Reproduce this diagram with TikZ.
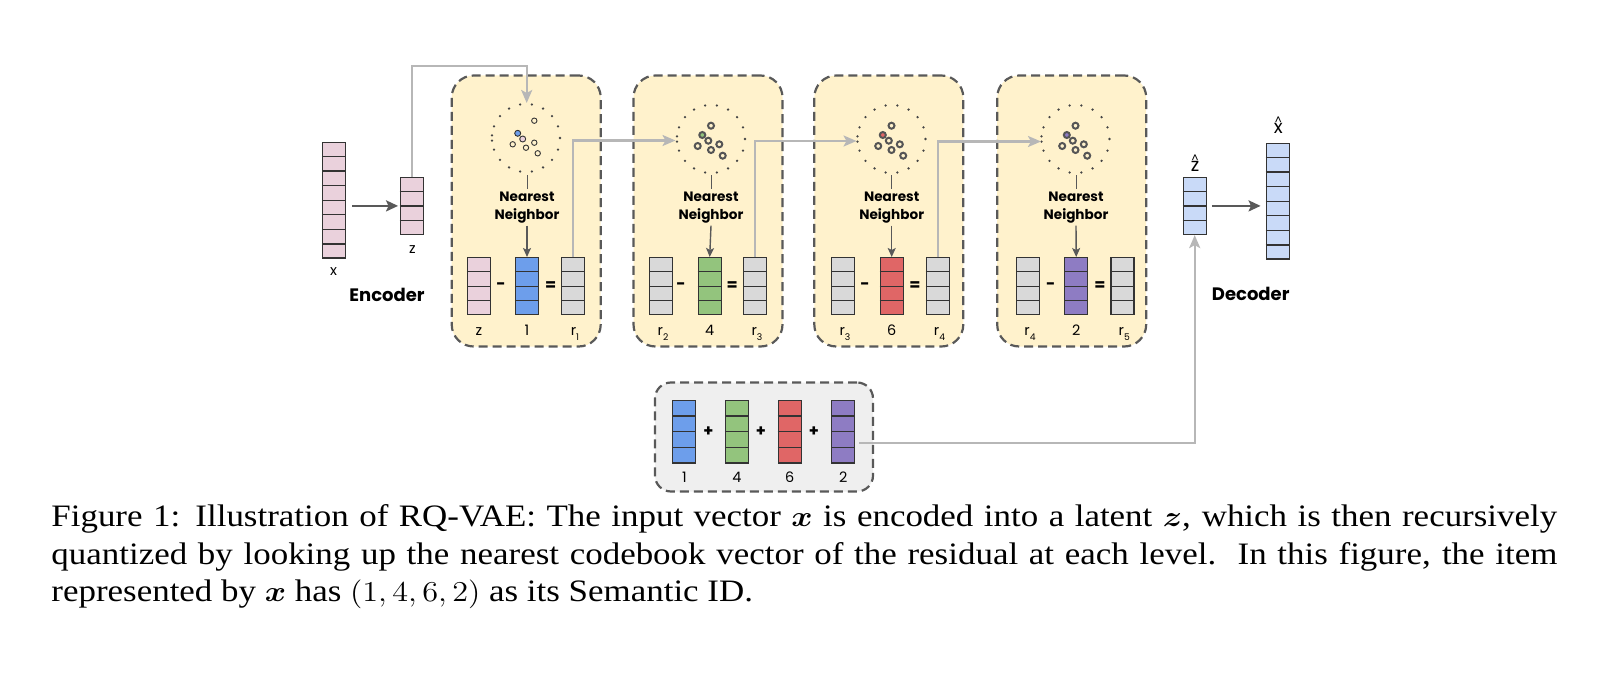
\documentclass[tikz,border=0pt]{standalone}
\usepackage[no-math]{fontspec}
\usepackage{bm}
\usepackage{graphicx}
\usetikzlibrary{arrows.meta,calc}
\newfontfamily\pop{Poppins}
\newfontfamily\capfont{Liberation Serif}
\definecolor{pinkv}{HTML}{EAD1DC}
\definecolor{bluec}{HTML}{6D9EEB}
\definecolor{greenc}{HTML}{93C47D}
\definecolor{redc}{HTML}{E06666}
\definecolor{purplec}{HTML}{8E7CC3}
\definecolor{lblue}{HTML}{C9DAF8}
\definecolor{grayv}{HTML}{D9D9D9}
\definecolor{boxyellow}{HTML}{FFF2CC}
\definecolor{sumgray}{HTML}{EFEFEF}
\definecolor{conngray}{HTML}{B7B7B7}
\definecolor{darkg}{HTML}{595959}
\definecolor{boxline}{HTML}{595959}
\definecolor{vline}{HTML}{333333}
\definecolor{dotc}{HTML}{444444}
\definecolor{ringc}{HTML}{555555}

\newcommand{\cellvec}[6]{% name, x centre, y top, cells, cell height (px), fill
  \node[vecnode, fill=#6, minimum height={#4*#5*0.5pt}] (#1) at (#2,#3) {};
  \pgfmathtruncatemacro{\cvn}{#4-1}%
  \foreach \k in {1,...,\cvn}{%
    \pgfmathsetmacro{\cvf}{\k/#4}%
    \draw[cellline] ($(#1.north west)!\cvf!(#1.south west)$) -- ($(#1.north east)!\cvf!(#1.south east)$);
  }%
}
\newcommand{\dotring}[1]{% dotted circle round coordinate #1
  \foreach \a in {0,20,...,340}{%
    \ifnum\a=180\relax
      \fill[dotc] ($(#1)+(-34,-2.6)$) circle[radius=1.3];
      \fill[dotc] ($(#1)+(-34,2.6)$) circle[radius=1.3];
    \else
      \fill[dotc] ($(#1)+(\a:34)$) circle[radius=1.3];
    \fi
  }%
}
\newcommand{\darkcluster}[2]{% coordinate, colour of the chosen code
  \dotring{#1}%
  \foreach \px/\py in {0/-13.3,-2.7/1.7,-13.3/7,0/11,8.3/5.3,11.7/16.7}{%
    \draw[ring] ($(#1)+(\px,\py)$) circle[radius=3];
  }%
  \draw[ring, fill=#2] ($(#1)+(-8.7,-4)$) circle[radius=3];
}
\newcommand{\nnfont}{\pop\bfseries\fontsize{6.8pt}{9pt}\selectfont}
\newcommand{\labfont}{\pop\fontsize{7.2pt}{8pt}\selectfont}
\newcommand{\sub}[1]{\raisebox{-2.6pt}{\fontsize{4.6pt}{5pt}\selectfont #1}}
\newsavebox{\hatbox}
\newcommand{\hatted}[1]{\sbox{\hatbox}{#1}\rlap{\hbox to \wd\hatbox{\hss\smash{\raisebox{4.6pt}{\fontsize{5.5pt}{6pt}\selectfont\textasciicircum}}\hss}}\usebox{\hatbox}}

\begin{document}
\begin{tikzpicture}[x=0.5pt,y=-0.5pt,
  vecnode/.style={draw=vline, line width=0.6pt, inner sep=0pt, minimum width=11.5pt, anchor=north},
  cellline/.style={draw=vline, line width=0.6pt},
  stagebox/.style={draw=boxline, dash pattern=on 4.5pt off 2.5pt, line width=1.1pt, rounded corners=11pt, fill=boxyellow, minimum width=74.5pt, minimum height=135.5pt, inner sep=0pt},
  sumbox/.style={draw=boxline, dash pattern=on 4.5pt off 2.5pt, line width=1.1pt, rounded corners=8pt, fill=sumgray, minimum width=109pt, minimum height=54.5pt, inner sep=0pt},
  conn/.style={draw=conngray, line width=1.15pt, -{Stealth[length=6.5pt,width=5.5pt,inset=1.5pt]}},
  darkarrow/.style={draw=darkg, line width=1.25pt, -{Stealth[length=6pt,width=5.5pt,inset=1.2pt]}},
  nnarrow/.style={draw=darkg, line width=0.7pt, -{Stealth[length=4.5pt,width=4pt,inset=1pt]}},
  nnline/.style={draw=darkg, line width=0.5pt},
  ring/.style={draw=ringc, line width=1pt},
  lightring/.style={draw=vline, line width=0.45pt},
  nn/.style={font=\nnfont, align=center, inner sep=1pt},
  lab/.style={font=\labfont, anchor=base, inner sep=0pt},
  hatlab/.style={font=\pop\fontsize{9.3pt}{10pt}\selectfont, anchor=base, inner sep=0pt},
  op/.style={font=\pop\bfseries\fontsize{8pt}{9pt}\selectfont, inner sep=0pt},
  big/.style={font=\pop\bfseries\fontsize{9pt}{10pt}\selectfont, anchor=base, inner sep=0pt},
  captext/.style={font=\capfont\fontsize{15.6pt}{18.75pt}\selectfont, anchor=base west, inner sep=0pt}
]
\useasboundingbox (0,0) rectangle (1600,674);

% stage boxes
\node[stagebox] (s1) at (526.2,211) {};
\node[stagebox] (s2) at (708,211) {};
\node[stagebox] (s3) at (888.8,211) {};
\node[stagebox] (s4) at (1071.7,211) {};
\node[sumbox] (sb) at (764,437) {};

% encoder side
\cellvec{xv}{334}{141.7}{8}{14.45}{pinkv}
\cellvec{zv}{411.7}{176.7}{4}{14.3}{pinkv}
\node[lab] (xl) at (333.5,275) {x};
\node[lab] (zl) at (412.5,253.3) {z};
\node[big] (enc) at (387,301.7) {Encoder};
\draw[darkarrow] ($(xv.east |- zv.west)+(6,0)$) -- ($(zv.west)+(-1.5,0)$);

% decoder side
\cellvec{zh}{1194.7}{176.7}{4}{14.3}{lblue}
\cellvec{xh}{1277.7}{142.7}{8}{14.45}{lblue}
\node[hatlab] (zhl) at (1195,171.7) {\hatted{z}};
\node[hatlab] (xhl) at (1278.3,133.3) {\hatted{x}};
\node[big] (dec) at (1250.7,300.7) {Decoder};
\draw[darkarrow] ($(zh.east)+(5,0)$) -- ($(xh.west |- zh.east)+(-5,0)$);

% clusters
\coordinate (c1) at (526,138);
\coordinate (c2) at (711,139);
\coordinate (c3) at (891.5,139);
\coordinate (c4) at (1075.5,139);
\dotring{c1}
\foreach \px/\py in {8.3/-17.3,-13.3/6.3,0/9.7,8.3/4.7,11.7/15.3}{%
  \draw[lightring] ($(c1)+(\px,\py)$) circle[radius=2.7];
}
\draw[lightring, fill=bluec] ($(c1)+(-8.3,-4.7)$) circle[radius=3];
\draw[lightring, fill=pinkv] ($(c1)+(-3.3,1)$) circle[radius=3];
\darkcluster{c2}{greenc}
\darkcluster{c3}{redc}
\darkcluster{c4}{purplec}

% stage 1
\cellvec{v1a}{479}{257}{4}{14.3}{pinkv}
\cellvec{v1b}{527}{257}{4}{14.3}{bluec}
\cellvec{v1c}{573.3}{257}{4}{14.3}{grayv}
\node[op] (m1) at (501,285.7) {-};
\node[op] (e1) at (550.7,285.7) {=};
\node[lab] (l1a) at (479,335) {z};
\node[lab] (l1b) at (527,335) {1};
\node[lab] (l1c) at (575,335) {r\sub{1}};
\node[nn] (n1) at (527,207.5) {Nearest\\Neighbor};
\coordinate (b1) at (527,175);
\draw[nnline] (b1) -- (n1.north);
\draw[nnarrow] (n1.south) -- (v1b.north);

% stage 2
\cellvec{v2a}{661.3}{257}{4}{14.3}{grayv}
\cellvec{v2b}{709.7}{257}{4}{14.3}{greenc}
\cellvec{v2c}{755.3}{257}{4}{14.3}{grayv}
\node[op] (m2) at (681,285.7) {-};
\node[op] (e2) at (732.3,285.7) {=};
\node[lab] (l2a) at (663,335) {r\sub{2}};
\node[lab] (l2b) at (709.7,335) {4};
\node[lab] (l2c) at (757,335) {r\sub{3}};
\node[nn] (n2) at (711,207.5) {Nearest\\Neighbor};
\coordinate (b2) at (711,175);
\draw[nnline] (b2) -- (n2.north);
\draw[nnarrow] (n2.south) -- (v2b.north);

% stage 3
\cellvec{v3a}{843}{257}{4}{14.3}{grayv}
\cellvec{v3b}{891.7}{257}{4}{14.3}{redc}
\cellvec{v3c}{937.7}{257}{4}{14.3}{grayv}
\node[op] (m3) at (865,285.7) {-};
\node[op] (e3) at (915,285.7) {=};
\node[lab] (l3a) at (845,335) {r\sub{3}};
\node[lab] (l3b) at (891.7,335) {6};
\node[lab] (l3c) at (939.5,335) {r\sub{4}};
\node[nn] (n3) at (891.7,207.5) {Nearest\\Neighbor};
\coordinate (b3) at (891.7,175);
\draw[nnline] (b3) -- (n3.north);
\draw[nnarrow] (n3.south) -- (v3b.north);

% stage 4
\cellvec{v4a}{1028.3}{257}{4}{14.3}{grayv}
\cellvec{v4b}{1076.2}{257}{4}{14.3}{purplec}
\cellvec{v4c}{1122.5}{257}{4}{14.3}{grayv}
\node[op] (m4) at (1050.7,285.7) {-};
\node[op] (e4) at (1100,285.7) {=};
\node[lab] (l4a) at (1030,335) {r\sub{4}};
\node[lab] (l4b) at (1076.2,335) {2};
\node[lab] (l4c) at (1124.3,335) {r\sub{5}};
\node[nn] (n4) at (1076,207.5) {Nearest\\Neighbor};
\coordinate (b4) at (1076,175);
\draw[nnline] (b4) -- (n4.north);
\draw[nnarrow] (n4.south) -- (v4b.north);

% sum box
\cellvec{q1}{684.3}{400}{4}{15.6}{bluec}
\cellvec{q2}{737}{400}{4}{15.6}{greenc}
\cellvec{q3}{789.7}{400}{4}{15.6}{redc}
\cellvec{q4}{843.3}{400}{4}{15.6}{purplec}
\node[op] (p1) at (708.3,431.7) {+};
\node[op] (p2) at (761,431.7) {+};
\node[op] (p3) at (814,431.7) {+};
\node[lab] (k1) at (684.3,482) {1};
\node[lab] (k2) at (737,482) {4};
\node[lab] (k3) at (789.7,482) {6};
\node[lab] (k4) at (843.3,482) {2};

% gray connectors
\coordinate (in1) at (526.7,103);
\coordinate (in2) at (675.5,140.5);
\coordinate (in3) at (856.5,141);
\coordinate (in4) at (1041,141.5);
\draw[conn] (zv.north) -- ++(0,-110.7) -| (in1);
\draw[conn] (v1c.north) |- (in2);
\draw[conn] (v2c.north) |- (in3);
\draw[conn] (v3c.north) |- (in4);
\coordinate (bout) at (859,442.7);
\draw[conn] (bout) -| (zh.south);

% caption
\node[captext] (cap1) at (51,526.5) {\scalebox{1.12}[1]{\makebox[672.3pt][s]{Figure 1: Illustration of RQ-VAE: The input vector $\bm{x}$ is encoded into a latent $\bm{z}$, which is then recursively}}};
\node[captext] (cap2) at (51,564) {\scalebox{1.12}[1]{\makebox[672.3pt][s]{quantized by looking up the nearest codebook vector of the residual at each level.\ \ In this figure, the item}}};
\node[captext] (cap3) at (51,601.5) {\scalebox{1.12}[1]{represented by $\bm{x}$ has $(1,4,6,2)$ as its Semantic ID.}};
\end{tikzpicture}
\end{document}
